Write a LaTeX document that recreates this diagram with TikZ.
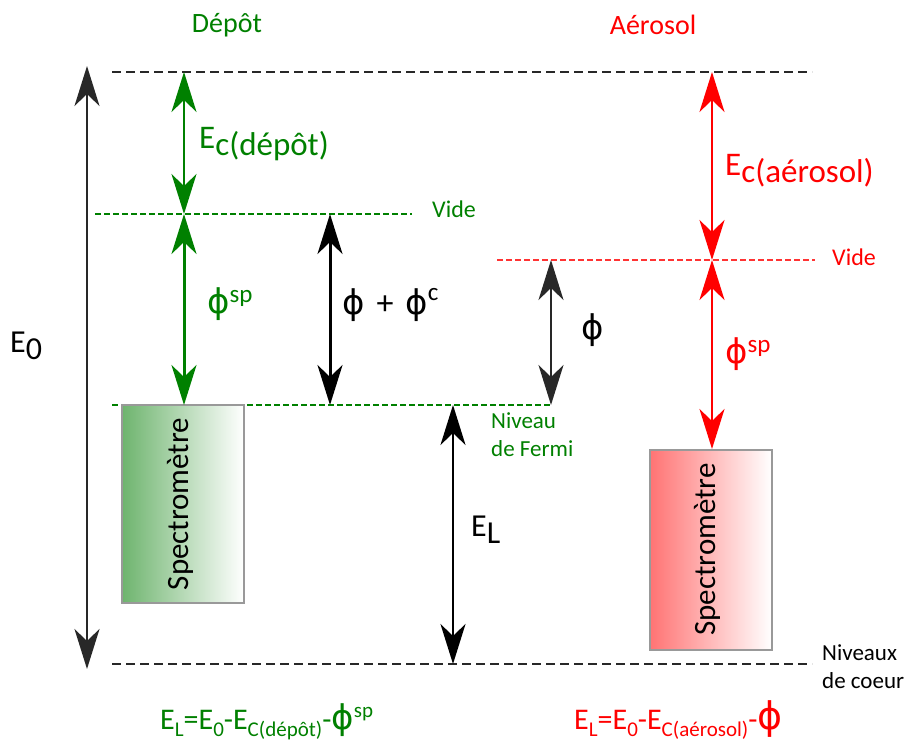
\documentclass[tikz,border=0pt]{standalone}
\usepackage{fontspec}
\setmainfont{Carlito}
\newfontfamily\phifont{DejaVu Sans}
\usetikzlibrary{arrows.meta}
\definecolor{dgreen}{RGB}{0,128,0}
\definecolor{dred}{RGB}{255,0,0}
\definecolor{boxgreen}{RGB}{110,180,110}
\definecolor{boxred}{RGB}{255,115,115}
\definecolor{lvlgray}{RGB}{40,40,40}
\newcommand{\fs}[1]{\fontsize{#1}{#1}\selectfont}
\newcommand{\lowr}[2]{\raisebox{-#1pt}{#2}}
\newcommand{\uppr}[2]{\raisebox{#1pt}{#2}}
\newcommand{\ph}{{\phifont ϕ}}
\begin{document}
\begin{tikzpicture}[x=1pt,y=-1pt,
  dblarrow/.style={{Stealth[length=40pt,width=25pt,inset=12pt]}-{Stealth[length=40pt,width=25pt,inset=12pt]}},
  lvl/.style={dash pattern=on 9pt off 5pt, line width=2.5pt, lvlgray},
  gline/.style={dash pattern=on 6pt off 3pt, line width=1.5pt, dgreen},
  rline/.style={dash pattern=on 6pt off 3pt, line width=1.5pt, dred!80},
  specbox/.style={draw=gray!80, line width=2pt, minimum width=122pt, inner sep=0pt},
  lab/.style={inner sep=0pt, anchor=base west}]
\path[use as bounding box] (0,0) rectangle (906,747);

% level coordinates
\coordinate (t1) at (112,72);  \coordinate (t2) at (812,72);
\coordinate (b1) at (112,664); \coordinate (b2) at (812,664);
\coordinate (gv1) at (95,214); \coordinate (gv2) at (412,214);
\coordinate (gf1) at (112,405); \coordinate (gf2) at (550,405);
\coordinate (rv1) at (497,260); \coordinate (rv2) at (815,260);

\draw[lvl] (t1) -- (t2);
\draw[lvl] (b1) -- (b2);
\draw[gline] (gv1) -- (gv2);
\draw[gline] (gf1) -- (gf2);
\draw[rline] (rv1) -- (rv2);

% boxes
\node[specbox, minimum height=198pt, left color=boxgreen, right color=white] (boxG) at (183,504) {};
\node[specbox, minimum height=200pt, left color=boxred, right color=white] (boxR) at (710.5,549.5) {};
\node[rotate=90, font=\fs{31}] (specG) at ([xshift=-3pt]boxG.center) {Spectromètre};
\node[rotate=90, font=\fs{31}] (specR) at ([xshift=-3pt]boxR.center) {Spectromètre};

% arrow end points
\coordinate (e0a) at (87,66);  \coordinate (e0b) at (87,669);
\coordinate (gca) at (184,72); \coordinate (gcb) at (184,214);
\coordinate (gsb) at (184,405);
\coordinate (pca) at (330,214); \coordinate (pcb) at (330,405);
\coordinate (pa) at (551,260);  \coordinate (pb) at (551,405);
\coordinate (ela) at (453,405); \coordinate (elb) at (453,664);
\coordinate (rca) at (712,72);  \coordinate (rcb) at (712,260);
\coordinate (rsb) at (712,449);

\draw[dblarrow, line width=2.5pt, lvlgray] (e0a) -- (e0b);
\draw[dblarrow, line width=2pt, dgreen] (gca) -- (gcb);
\draw[dblarrow, line width=3pt, dgreen] (gcb) -- (gsb);
\draw[dblarrow, line width=3pt, black] (pca) -- (pcb);
\draw[dblarrow, line width=2pt, lvlgray] (pa) -- (pb);
\draw[dblarrow, line width=2.5pt, black] (ela) -- (elb);
\draw[dblarrow, line width=2.5pt, dred] (rca) -- (rcb);
\draw[dblarrow, line width=2.5pt, dred] (rcb) -- (rsb);

% titles
\node[font=\fs{28}, text=dgreen] (tDep) at (227,25) {Dépôt};
\node[font=\fs{28}, text=dred] (tAer) at (653,25) {Aérosol};

% labels
\node[lab, font=\fs{33}, text=dgreen] (lEcd) at (199,148) {E\lowr{7}{c(dépôt)}};
\node[lab, font=\fs{33}, text=dred] (lEca) at (725,175) {E\lowr{7}{c(aérosol)}};
\node[lab, font=\fs{32}] (lE0) at (10,352) {E\lowr{7}{0}};
\node[lab, font=\fs{32}] (lEL) at (471,536) {E\lowr{7}{L}};
\node[lab, font=\fs{24}, text=dgreen] (lvg) at (432,217) {Vide};
\node[lab, font=\fs{24}, text=dred] (lvr) at (832,265) {Vide};
\node[lab, font=\fs{23}, text=dgreen] (lf1) at (491,428) {Niveau};
\node[lab, font=\fs{23}, text=dgreen] (lf2) at (491,456) {de Fermi};
\node[lab, font=\fs{23}] (lc1) at (822,660) {Niveaux};
\node[lab, font=\fs{23}] (lc2) at (822,688) {de coeur};

\node[lab, font=\fs{34}, text=dgreen] (lpg) at (207,313) {\ph\uppr{11}{\fs{25}sp}};
\node[lab, font=\fs{34}, text=dred] (lpr) at (725,363) {\ph\uppr{11}{\fs{25}sp}};
\node[lab, font=\fs{34}] (lpc) at (342,314) {\ph\hspace{12pt}{\fs{34}+}\hspace{12pt}\ph\uppr{14}{\fs{25}c}};
\node[lab, font=\fs{34}] (lp) at (581,339) {\ph};

% formulas
\node[lab, font=\fs{30}, text=dgreen] (fG) at (160,729)
  {E\lowr{7}{\fs{21}L}=E\lowr{7}{\fs{21}0}-E\lowr{7}{\fs{21}C(dépôt)}-{\fs{34}\ph}\uppr{12}{\fs{21}sp}};
\node[lab, font=\fs{30}, text=dred] (fR) at (574,729)
  {E\lowr{7}{\fs{21}L}=E\lowr{7}{\fs{21}0}-E\lowr{7}{\fs{21}C(aérosol)}-{\fs{38}\ph}};
\end{tikzpicture}
\end{document}
